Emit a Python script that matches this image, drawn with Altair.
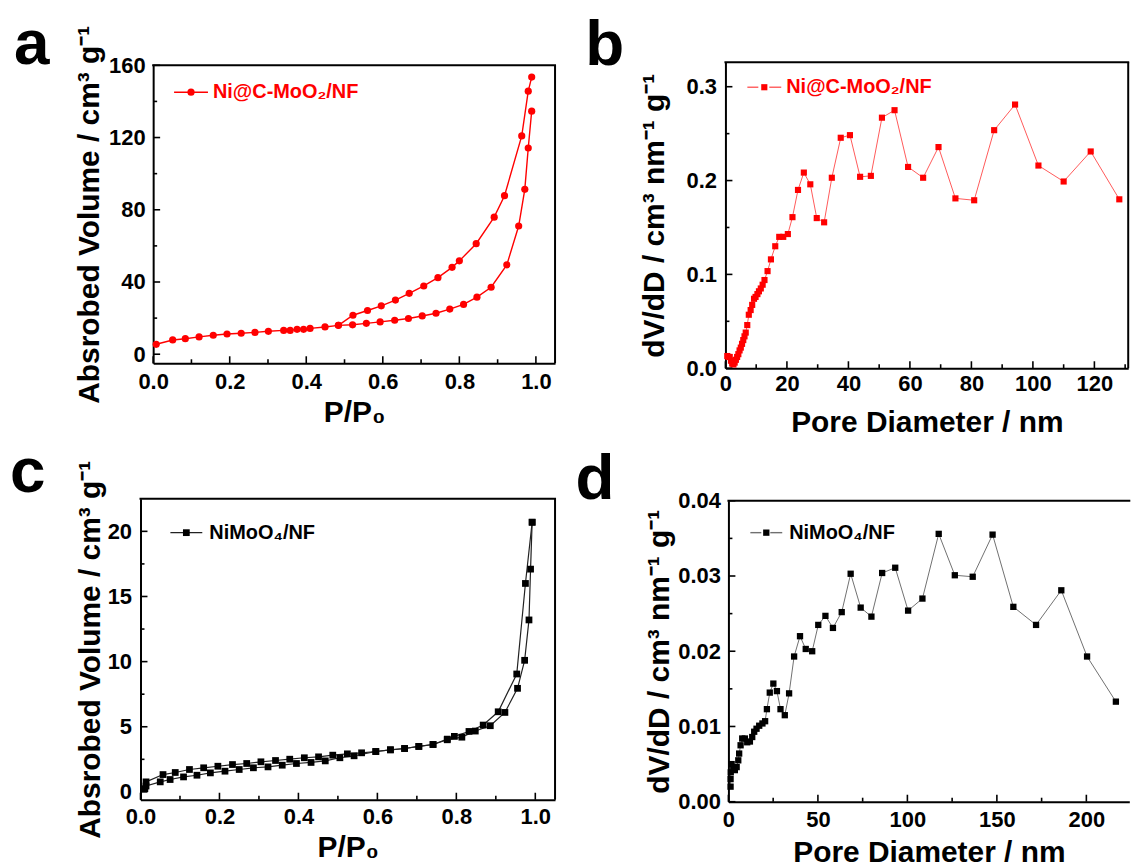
import altair as alt
import pandas as pd

# ---------------- data ----------------
# (a) Ni@C-MoO2/NF isotherm
a_ads_p = [0.008, 0.051, 0.084, 0.120, 0.157, 0.193, 0.230, 0.266, 0.301, 0.341, 0.358, 0.376, 0.393, 0.410,
           0.449, 0.484, 0.521, 0.557, 0.593, 0.631, 0.667, 0.703, 0.739, 0.775, 0.811, 0.846, 0.883, 0.924,
           0.955, 0.971, 0.980, 0.989]
a_ads_v = [5.5, 7.9, 8.6, 9.6, 10.5, 11.2, 11.6, 12.1, 12.7, 13.2, 13.2, 13.8, 13.8, 14.3,
           15.1, 16.0, 16.3, 17.1, 17.9, 18.8, 19.8, 21.2, 22.7, 25.0, 27.6, 31.6, 37.1, 49.5,
           71.0, 91.3, 114.2, 134.6]
a_des_p = [0.989, 0.980, 0.963, 0.918, 0.891, 0.844, 0.800, 0.781, 0.744, 0.707, 0.669, 0.633, 0.596,
           0.560, 0.522, 0.484]
a_des_v = [153.5, 145.7, 120.9, 87.8, 75.9, 61.2, 51.7, 48.1, 42.4, 37.8, 33.7, 30.0, 26.8,
           24.2, 21.6, 16.0]

# (b) Ni@C-MoO2/NF pore size distribution
b_d = [0.6, 1.0, 1.4, 1.8, 2.2, 2.6, 3.0, 3.4, 3.8, 4.2, 4.6, 5.0, 5.4, 5.8, 6.2, 6.6, 7.1, 7.6, 8.2, 8.7,
       9.3, 9.8, 10.4, 10.9, 11.5, 12.1, 12.7, 13.7, 14.8, 16.2, 17.5, 18.8, 20.3, 21.8, 23.6, 25.5, 27.6,
       29.7, 32.1, 34.6, 37.5, 40.5, 43.8, 47.3, 50.9, 55.0, 59.4, 64.3, 69.3, 74.8, 80.9, 87.4, 94.2,
       101.8, 110.0, 118.8, 128.1]
b_v = [0.013, 0.012, 0.012, 0.008, 0.005, 0.004, 0.006, 0.009, 0.012, 0.015, 0.019, 0.022, 0.026, 0.030,
       0.034, 0.038, 0.046, 0.057, 0.062, 0.0675, 0.074, 0.076, 0.079, 0.082, 0.085, 0.089, 0.094, 0.1035,
       0.116, 0.130, 0.140, 0.140, 0.143, 0.161, 0.190, 0.2085, 0.196, 0.160, 0.1555, 0.203, 0.2456,
       0.2484, 0.204, 0.205, 0.267, 0.275, 0.2145, 0.203, 0.2357, 0.181, 0.179, 0.2537, 0.281, 0.216,
       0.199, 0.231, 0.180]

# (c) NiMoO4/NF isotherm
c_ads_p = [0.011, 0.014, 0.050, 0.075, 0.109, 0.143, 0.177, 0.214, 0.250, 0.286, 0.323, 0.359, 0.395,
           0.432, 0.468, 0.505, 0.541, 0.596, 0.633, 0.669, 0.705, 0.741, 0.777, 0.814, 0.848, 0.886,
           0.923, 0.955, 0.973, 0.984, 0.988, 0.992]
c_ads_v = [0.25, 0.45, 0.77, 0.95, 1.15, 1.28, 1.46, 1.59, 1.72, 1.85, 1.92, 2.05, 2.18,
           2.26, 2.38, 2.62, 2.77, 3.10, 3.23, 3.33, 3.49, 3.64, 4.00, 4.20, 4.67, 5.08,
           6.10, 7.95, 10.1, 13.2, 17.1, 20.7]
c_des_p = [0.992, 0.975, 0.953, 0.906, 0.868, 0.832, 0.795, 0.777, 0.741, 0.705, 0.669, 0.633, 0.596,
           0.560, 0.524, 0.487, 0.451, 0.415, 0.378, 0.342, 0.305, 0.269, 0.233, 0.196, 0.160, 0.124,
           0.088, 0.057, 0.014]
c_des_v = [20.7, 16.0, 9.05, 6.15, 5.13, 4.64, 4.26, 4.05, 3.64, 3.49, 3.33, 3.23, 3.10,
           3.00, 2.92, 2.82, 2.69, 2.62, 2.51, 2.41, 2.31, 2.18, 2.10, 1.97, 1.85, 1.72,
           1.49, 1.33, 0.77]

# (d) NiMoO4/NF pore size distribution
d_d = [1.2, 1.2, 1.3, 1.8, 2.7, 3.6, 4.6, 5.5, 6.0, 6.8, 7.7, 9.2, 10.5, 12.0, 13.3, 14.4, 15.7, 17.2,
       19.0, 20.5, 21.5, 23.1, 25.1, 27.1, 29.1, 31.5, 33.9, 36.7, 40.0, 43.2, 46.8, 50.2, 54.2, 58.4,
       63.3, 68.3, 73.9, 79.9, 85.9, 93.2, 100.4, 108.4, 117.5, 126.5, 136.5, 147.6, 159.2, 171.9,
       186.0, 200.4, 216.5]
d_v = [0.0020, 0.0030, 0.0039, 0.0050, 0.0046, 0.0042, 0.0046, 0.0055, 0.0064, 0.0075, 0.0084, 0.0084,
       0.0079, 0.0080, 0.0086, 0.0093, 0.0097, 0.0101, 0.0104, 0.0107, 0.0123, 0.0145, 0.0157, 0.0147,
       0.0123, 0.0115, 0.0144, 0.0193, 0.0220, 0.0203, 0.0200, 0.0235, 0.0247, 0.0231, 0.0252, 0.0303,
       0.0258, 0.0246, 0.0304, 0.0311, 0.0254, 0.0270, 0.0356, 0.0301, 0.0299, 0.0355, 0.0259, 0.0235,
       0.0281, 0.0193, 0.0133]

# tick values
a_xmaj = [0.0, 0.2, 0.4, 0.6, 0.8, 1.0]
a_xmin = [0.1, 0.3, 0.5, 0.7, 0.9]
a_ymaj = [0, 40, 80, 120, 160]
a_ymin = [20, 60, 100, 140]
b_xmaj = [0, 20, 40, 60, 80, 100, 120]
b_xmin = [10, 30, 50, 70, 90, 110, 130]
b_ymaj = [0.0, 0.1, 0.2, 0.3]
b_ymin = [0.05, 0.15, 0.25]
c_ymaj = [0, 5, 10, 15, 20]
c_ymin = [2.5, 7.5, 12.5, 17.5]
d_xmaj = [0, 50, 100, 150, 200]
d_xmin = [25, 75, 125, 175]
d_ymaj = [0.00, 0.01, 0.02, 0.03, 0.04]
d_ymin = [0.005, 0.015, 0.025, 0.035]

# texts
title_iso_y = "Absrobed Volume / cm³ g⁻¹"
title_iso_x = "P/P₀"
title_psd_y = "dV/dD / cm³ nm⁻¹ g⁻¹"
title_psd_x = "Pore Diameter / nm"
label_ni = "Ni@C-MoO₂/NF"
label_nimo = "NiMoO₄/NF"

FONT = "Liberation Sans"
RED = "#ff0000"
ROW_SPLIT = 438   # page y separating the two rows of panels
COL_SPLIT = 566   # page x separating the two columns of panels


def iso_df(ads_p, ads_v, des_p, des_v):
    rows = []
    for i, (p, v) in enumerate(zip(ads_p, ads_v)):
        rows.append({"p": p, "v": v, "branch": "ads", "i": i})
    for i, (p, v) in enumerate(zip(des_p, des_v)):
        rows.append({"p": p, "v": v, "branch": "des", "i": i})
    return pd.DataFrame(rows)


def psd_df(d, v):
    return pd.DataFrame({"p": d, "v": v, "branch": "one", "i": list(range(len(d)))})


def make_axis(values, fmt, title, lpad, tpad, offset=0):
    return alt.Axis(values=values, format=fmt, title=title, labelPadding=lpad, titlePadding=tpad,
                    offset=offset,
                    ticks=False, grid=False, domain=True, domainColor="black", domainWidth=2,
                    labelFont=FONT, titleFont=FONT, labelFontWeight="bold", titleFontWeight="bold",
                    labelFontSize=22, titleFontSize=30, labelColor="black", titleColor="black",
                    labelFlush=False, labelOverlap=False)


def one(v=0):
    return pd.DataFrame({"t": [v]})


def panel(df, xdom, ydom, origin, plot, cell, xvals, xfmt, xlp, xtp, yvals, yfmt, ylp, ytp,
          xtitle, ytitle, ticks, line_color, line_w, shape, msize, mcolor,
          leg_label, leg_color, leg_line_color, leg_lx, leg_y, leg_dashed, leg_dx,
          letter, letter_xy, right_border=True):
    gx, gy = origin
    px0, py0, px1, py1 = plot
    W, H = px1 - gx, py1 - gy          # group size
    L, T = px0 - gx, py0 - gy          # plot-area inset inside the group
    R = px1 - gx

    def rx(x):
        return x - gx

    def ry(y):
        return y - gy

    xs = alt.Scale(domain=xdom, range=[L, R], nice=False, zero=False)
    ys = alt.Scale(domain=ydom, range=[H, T], nice=False, zero=False)
    xax = make_axis(xvals, xfmt, xtitle, xlp, xtp)
    yax = make_axis(yvals, yfmt, ytitle, ylp, ytp, offset=-L)

    layers = []
    # invisible cell box: pins the panel's extent inside the 2x2 grid
    cx0, cy0, cx1, cy1 = cell
    layers.append(alt.Chart(one()).mark_rect(opacity=0).encode(
        x=alt.value(rx(cx0)), x2=alt.value(rx(cx1)), y=alt.value(ry(cy0)), y2=alt.value(ry(cy1))))

    base = alt.Chart(df).encode(x=alt.X("p:Q", scale=xs, axis=xax), y=alt.Y("v:Q", scale=ys, axis=yax))
    layers.append(base.mark_line(color=line_color, strokeWidth=line_w).encode(detail="branch:N", order="i:Q"))
    layers.append(base.mark_point(shape=shape, filled=True, opacity=1, color=mcolor, size=msize))

    # inward ticks
    xmaj, xmin, ymaj, ymin = ticks
    for vals, ln in ((xmaj, 7), (xmin, 4)):
        layers.append(alt.Chart(pd.DataFrame({"p": vals})).mark_rule(color="black", strokeWidth=1.6).encode(
            x=alt.X("p:Q", scale=xs, axis=xax), y=alt.value(H), y2=alt.value(H - ln)))
    for vals, ln in ((ymaj, 7), (ymin, 4)):
        layers.append(alt.Chart(pd.DataFrame({"v": vals})).mark_rule(color="black", strokeWidth=1.6).encode(
            y=alt.Y("v:Q", scale=ys, axis=yax), x=alt.value(L), x2=alt.value(L + ln)))

    # frame (top and right)
    layers.append(alt.Chart(one()).mark_rule(color="black", strokeWidth=2).encode(
        x=alt.value(L - 1), x2=alt.value(R + 1), y=alt.value(T)))
    if right_border:
        layers.append(alt.Chart(one()).mark_rule(color="black", strokeWidth=2).encode(
            x=alt.value(R), y=alt.value(T), y2=alt.value(H)))

    # legend
    lx0, lx1 = px0 + leg_lx[0], px0 + leg_lx[1]
    ly = py0 + leg_y
    segs = [(lx0, lx0 + 11), (lx1 - 12, lx1)] if leg_dashed else [(lx0, lx1)]
    for s0, s1 in segs:
        layers.append(alt.Chart(one()).mark_rule(color=leg_line_color, strokeWidth=1.4).encode(
            x=alt.value(rx(s0)), x2=alt.value(rx(s1)), y=alt.value(ry(ly))))
    layers.append(alt.Chart(one()).mark_point(shape=shape, filled=True, opacity=1, color=leg_color,
                                              size=msize).encode(
        x=alt.value(rx((lx0 + lx1) / 2)), y=alt.value(ry(ly))))
    layers.append(alt.Chart(pd.DataFrame({"t": [leg_label]})).mark_text(
        align="left", baseline="middle", font=FONT, fontSize=20, fontWeight="bold", color=leg_color).encode(
        x=alt.value(rx(lx1 + leg_dx)), y=alt.value(ry(ly)), text="t:N"))

    # panel letter
    layers.append(alt.Chart(pd.DataFrame({"t": [letter]})).mark_text(
        align="left", baseline="alphabetic", font=FONT, fontSize=64, fontWeight="bold", color="black").encode(
        x=alt.value(rx(letter_xy[0])), y=alt.value(ry(letter_xy[1])), text="t:N"))

    return alt.layer(*layers).properties(width=W, height=H,
                                          view=alt.ViewBackground(stroke="transparent"))


# panel a  (group origin shared with panel c horizontally and panel b vertically)
pa = panel(iso_df(a_ads_p, a_ads_v, a_des_p, a_des_v), [0, 1.05], [-5, 160],
           (140, 60), (152.7, 63, 556, 362), (0, 0, COL_SPLIT, ROW_SPLIT),
           a_xmaj, ".1f", 8, 5, a_ymaj, "d", 8, 4, title_iso_x, title_iso_y,
           (a_xmaj, a_xmin, a_ymaj, a_ymin), RED, 1.4, "circle", 52, RED,
           label_ni, RED, RED, (21, 55), 27, False, 5, "a", (13, 62))
# panel b
pb = panel(psd_df(b_d, b_v), [0, 131], [0, 0.326],
           (724.8, 60), (724.8, 60, 1129, 367), (COL_SPLIT, 0, 1132, ROW_SPLIT),
           b_xmaj, "d", 5, 13, b_ymaj, ".1f", 9, 17, title_psd_x, title_psd_y,
           (b_xmaj, b_xmin, b_ymaj, b_ymin), "#ff5a5a", 1.0, "square", 38, RED,
           label_ni, RED, "#ff5a5a", (22, 56), 25, True, 5, "b", (584, 63))
# panel c
pc = panel(iso_df(c_ads_p, c_ads_v, c_des_p, c_des_v), [0, 1.05], [-0.6, 22.5],
           (140, 496), (140, 496, 556, 798), (0, ROW_SPLIT, COL_SPLIT, 867),
           a_xmaj, ".1f", 7, 5, c_ymaj, "d", 9, 2, title_iso_x, title_iso_y,
           (a_xmaj, a_xmin, c_ymaj, c_ymin), "#222222", 1.2, "square", 46, "black",
           label_nimo, "black", "#222222", (30, 62), 34, False, 7, "c", (9, 489))
# panel d (right edge cut off in the original figure)
pd_ = panel(psd_df(d_d, d_v), [0, 224], [0, 0.04],
            (728.5, 498), (728.5, 498, 1130.8, 800), (COL_SPLIT, ROW_SPLIT, 1132, 867),
            d_xmaj, "d", 8, 7, d_ymaj, ".2f", 8, 3, title_psd_x, title_psd_y,
            (d_xmaj, d_xmin, d_ymaj, d_ymin), "#707070", 1.0, "square", 40, "black",
            label_nimo, "black", "#707070", (22, 54), 32, True, 7, "d", (575, 496), right_border=False)

chart = alt.concat(pa, pb, pc, pd_, columns=2, spacing=0, align="none").properties(
    padding={"left": 0, "top": 0, "right": 0, "bottom": 0}
).configure(background="white")

chart.save("out.html", embed_options={"renderer": "svg", "actions": False})
